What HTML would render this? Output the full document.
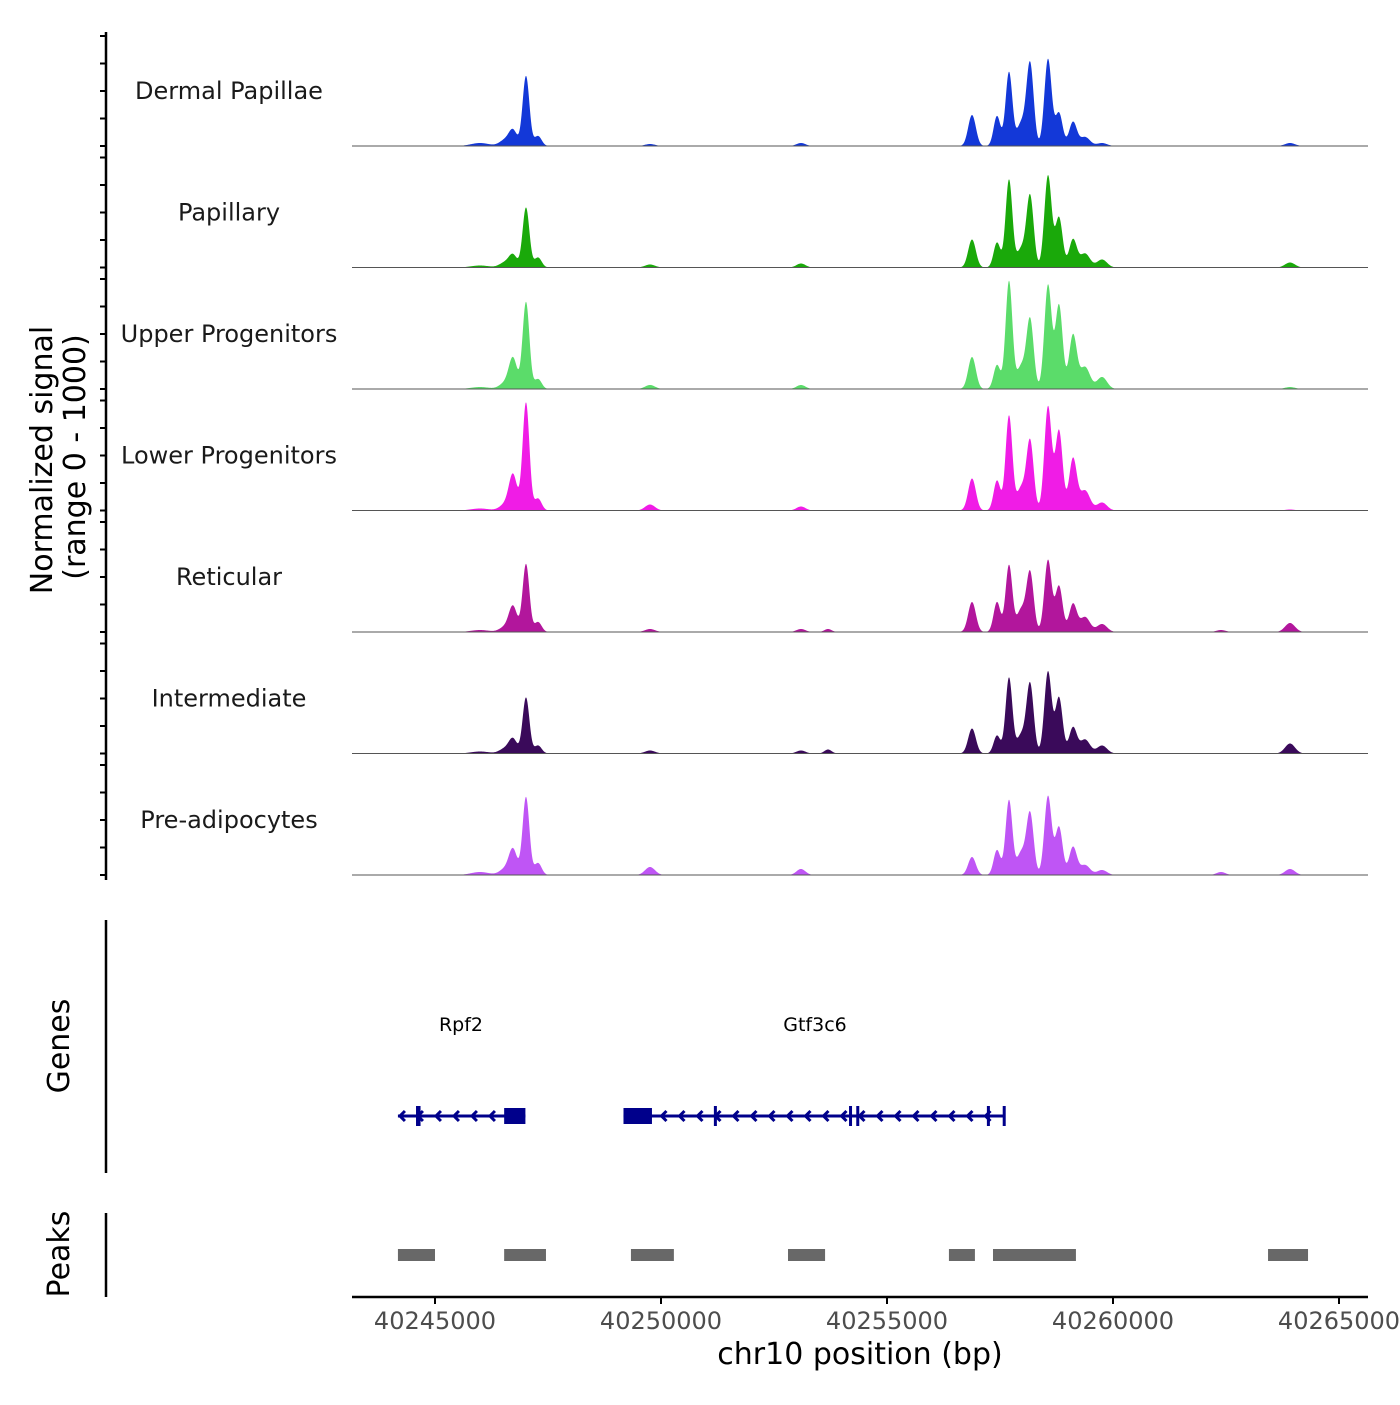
<!DOCTYPE html>
<html><head><meta charset="utf-8"><style>
body{margin:0;background:#fff}
svg text{font-family:"DejaVu Sans","Liberation Sans",sans-serif}
</style></head><body>
<svg id="c" width="1400" height="1400" xmlns="http://www.w3.org/2000/svg">
<rect width="1400" height="1400" fill="#fff"/>
<g id="tracks"></g>
<g id="genes"></g>
<g id="peaks"></g>
<g id="axes"></g>
</svg>
<script>
const trackNames=["Dermal Papillae","Papillary","Upper Progenitors","Lower Progenitors","Reticular","Intermediate","Pre-adipocytes"];
const trackColors=["#1338d8","#1aa90a","#5bdc6a","#f01ce6","#b2169c","#3a0a5a","#bf55f5"];
const peakCenters=[40245996,40246549,40246726,40247013,40247279,40249757,40253097,40253695,40256881,40257434,40257699,40257965,40258164,40258562,40258805,40259115,40259381,40259757,40262389,40263916];
const peakWidths=[200,120,90,75,80,110,100,80,85,75,75,90,80,80,80,85,110,110,100,110];
const dermalPapillae=[3,6,15,70,10,2,3,0,31,30,74,22,83,87,33,24,9,3,0,3];
const papillary=[2,5,12,60,10,3,4,0,28,25,88,18,72,92,50,28,14,8,0,5];
const upperProgenitors=[2,6,30,87,10,4,4,0,32,24,108,22,70,104,84,54,22,12,0,2];
const lowerProgenitors=[2,6,35,108,12,6,4,0,32,30,95,22,70,104,80,52,20,8,0,1];
const reticular=[2,5,25,68,10,3,3,3,30,30,67,22,60,72,46,28,15,8,2,9];
const intermediate=[2,5,14,56,8,3,3,4,25,18,76,18,70,82,56,26,14,8,0,10];
const preAdipocytes=[3,6,25,78,12,8,6,0,18,25,75,22,62,79,48,28,10,5,3,6];
const trackValues=[dermalPapillae,papillary,upperProgenitors,lowerProgenitors,reticular,intermediate,preAdipocytes];
const xTicks=[40245000,40250000,40255000,40260000,40265000];
const peakRegions=[[40244180,40245000],[40246530,40247455],[40249335,40250285],[40252810,40253630],[40256370,40256945],[40257345,40259180],[40263430,40264315]];
const geneNames=["Rpf2","Gtf3c6"];
const geneStarts=[40244180,40249170];
const geneEnds=[40247000,40257590];
const geneExons=[[[40244580,40244680],[40246530,40247000]],[[40249170,40249800],[40251170,40251230],[40254160,40254200],[40254320,40254360],[40257210,40257260],[40257560,40257610]]];

const NS="http://www.w3.org/2000/svg";
const X0=352,X1=1368;
function xs(bp){return 435+(bp-40245000)*226/5000;}
function mk(tag,attrs,parent){const e=document.createElementNS(NS,tag);for(const k in attrs)e.setAttribute(k,attrs[k]);parent.appendChild(e);return e;}
const tracks=document.getElementById('tracks');
const trackMax=110, trackStep=121.5, firstBase=146;
function yScale(v,base){return base-Math.min(v,trackMax)/trackMax*110;}
trackValues.forEach((vals,t)=>{
  const base=firstBase+t*trackStep;
  let d=`M${X0},${base}`;
  for(let px=X0;px<=X1;px+=0.5){
    const bp=40245000+(px-435)*5000/226;
    let v=0;
    for(let i=0;i<peakCenters.length;i++){const z=(bp-peakCenters[i])/peakWidths[i];v+=vals[i]*Math.exp(-0.5*z*z);}
    d+=`L${px},${yScale(v,base).toFixed(2)}`;
  }
  d+=`L${X1},${base}Z`;
  const p=mk('path',{d:d,fill:trackColors[t]},tracks);
  
  
  const bl=mk('line',{x1:X0,x2:X1,y1:base,y2:base,stroke:'#555','stroke-width':1},tracks);
  
  
  const tl=mk('text',{x:229,y:base-47,'font-size':24,'text-anchor':'middle',fill:'#1a1a1a'},tracks);
  tl.textContent=trackNames[t];
  
  
});
const genes=document.getElementById('genes');
const gy=1116, gc='#00008b';
geneNames.forEach((g,i)=>{
  const a=xs(geneStarts[i]),b=xs(geneEnds[i]);
  const ln=mk('line',{x1:a,x2:b,y1:gy,y2:gy,stroke:gc,'stroke-width':3},genes);
  
  
  for(let px=a+2;px<b-4;px+=18){
    const ch=mk('polyline',{points:`${px+5},${gy-5} ${px},${gy} ${px+5},${gy+5}`,fill:'none',stroke:gc,'stroke-width':3},genes);
    
    
  }
  geneExons[i].forEach(ex=>{
    const e1=xs(ex[0]),e2=Math.max(xs(ex[1]),e1+3);
    const big=(e2-e1)>10;
    const r=mk('rect',{x:e1,y:big?gy-8:gy-10,width:e2-e1,height:big?16:20,fill:gc},genes);
    
    
  });
  const t=mk('text',{x:(i==0?461:815),y:1031,'font-size':19,'text-anchor':'middle',fill:'#000'},genes);
  t.textContent=g;
  
  
});
const peaks=document.getElementById('peaks');
peakRegions.forEach(r=>{
  const e=mk('rect',{x:xs(r[0]),y:1249,width:xs(r[1])-xs(r[0]),height:12,fill:'#686868'},peaks);
  
  
});
const axes=document.getElementById('axes');
function L(x1,y1,x2,y2,n,w){const e=mk('line',{x1,y1,x2,y2,stroke:'#000','stroke-width':w||2.5},axes);return e;}
L(106,32,106,880,'signal-y-axis');
for(let t=0;t<7;t++){const base=firstBase+t*trackStep;for(let k=0;k<=4;k++){L(100,base-k*27.5,106,base-k*27.5,'y-tick',2);}}
L(106,920,106,1173,'genes-y-axis');
L(106,1213,106,1297,'peaks-y-axis');
L(352,1297,1368,1297,'x-axis');
xTicks.forEach(v=>{
  L(xs(v),1297,xs(v),1304,'x-tick',2);
  const t=mk('text',{x:xs(v),y:1329,'font-size':24,'text-anchor':'middle',fill:'#4d4d4d'},axes);
  t.textContent=v;
  
  
});
function T(txt,x,y,s,rot,n){const t=mk('text',{x,y,'font-size':s,'text-anchor':'middle',fill:'#000',transform:rot?`rotate(-90 ${x} ${y})`:''},axes);t.textContent=txt;}
T('chr10 position (bp)',860,1364,30,false,'x-axis-title');
T('Normalized signal',52,460,30,true,'y-axis-title');
T('(range 0 - 1000)',85,457,30,true,'y-axis-subtitle');
T('Genes',69,1046,30,true,'genes-axis-title');
T('Peaks',69,1254,30,true,'peaks-axis-title');
</script>
</body></html>
